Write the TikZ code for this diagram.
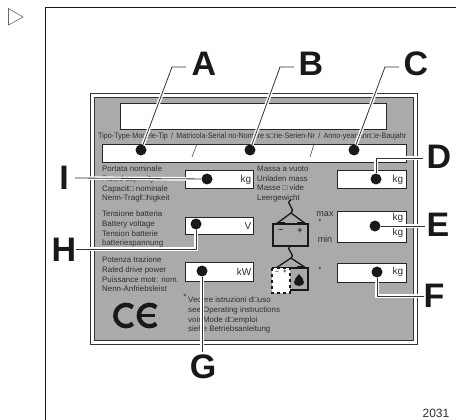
\documentclass[tikz,border=0pt]{standalone}
\usepackage{fontspec}
\usepackage{graphicx}
\setmainfont{Liberation Sans}
\usetikzlibrary{positioning,arrows.meta}
\usetikzlibrary{calc}

\definecolor{plategray}{HTML}{A9AAAC}
\definecolor{inkgray}{HTML}{2E2E2E}

\begin{document}
\begin{tikzpicture}[x=1pt, y=-1pt,
  field/.style={draw=black!85, fill=white, line width=0.9pt, minimum height=0pt, minimum width=0pt, inner sep=0pt, anchor=north west},
  platetext/.style={anchor=north west, align=left, inner sep=0pt, text=inkgray, font=\fontsize{7.9}{9.65}\selectfont},
  unit/.style={inner sep=0pt, text=inkgray, font=\fontsize{10}{10}\selectfont},
  pin/.style={circle, fill=black!90, minimum size=11pt, inner sep=0pt},
  callout/.style={inner sep=0pt, text=black!90, font=\fontsize{34}{34}\selectfont\bfseries},
  leader/.style={draw=black!80, line width=0.8pt, preaction={draw=white, line width=3.6pt}},
  strap/.style={draw=black!90, line width=1.3pt}]
\useasboundingbox (0,0) rectangle (456,420);
% frame and marker
\draw[black!90, line width=1.6pt] (45.5,420) -- (45.5,7.5) -- (456,7.5);
\draw[black!60, line width=0.6pt] (8.5,8.5) -- (23,17) -- (8.5,25) -- cycle;
% plate
\node[draw=black!80, line width=0.7pt, minimum width=327pt, minimum height=250pt, inner sep=0pt, anchor=north west] (plateouter) at (90,93.5) {};
\node[draw=black!80, fill=plategray, line width=0.8pt, minimum width=319pt, minimum height=243pt, inner sep=0pt, anchor=north west] (plate) at (93.5,97) {};
% fields
\node[field, minimum width=266pt, minimum height=26pt] (title) at (120,103) {};
\node[field, minimum width=304pt, minimum height=18pt] (serial) at (102,144) {};
\node[field, minimum width=68pt, minimum height=18pt] (rated) at (185,170) {};
\node[field, minimum width=69pt, minimum height=18pt] (unladen) at (337,170) {};
\node[field, minimum width=68pt, minimum height=17pt] (volt) at (185,217) {};
\node[field, minimum width=68pt, minimum height=19pt] (power) at (185,262) {};
\node[field, minimum width=69pt, minimum height=31pt] (ballastmax) at (337,211) {};
\node[field, minimum width=69pt, minimum height=19pt] (ballast) at (337,263) {};
\draw[black!70, line width=0.6pt] (197,144) -- (192,157);
\draw[black!70, line width=0.6pt] (314,144) -- (310,157);
% plate texts
\node[platetext, anchor=west] (serialtext) at (98,136.5) {\scalebox{0.91}[1]{Tipo-Type-Modèle-Tip\, /\, Matricola-Serial no-Nombre s□rie-Serien-Nr\, /\, Anno-year/ann□e-Baujahr}};
\node[platetext] (ratedtext) at (102,166) {Portata nominale\\Rated capacity\\Capacit□ nominale\\Nenn-Tragf□higkeit};
\node[platetext] (masstext) at (257,166) {Massa a vuoto\\Unladen mass\\Masse □ vide\\Leergewicht};
\node[platetext] (volttext) at (102,211) {Tensione batteria\\Battery voltage\\Tension batterie\\batteriespannung};
\node[platetext] (powertext) at (102,257) {Potenza trazione\\Rated drive power\\Puissance motr. nom.\\Nenn-Anfriebsleist};
\node[platetext] (notetext) at (188,297) {Vedere istruzioni d□uso\\see Operating instructions\\voir Mode d□emploi\\siehe Betriebsanleitung};
\node[platetext, anchor=center] (star) at (185,297) {*};
\node[unit, font=\fontsize{9}{9}\selectfont] (maxtext) at (325,214) {max};
\node[unit, font=\fontsize{9}{9}\selectfont] (mintext) at (325,239) {min};
\node[platetext, anchor=center] (maxstar) at (320,222) {*};
\node[platetext, anchor=center] (ballaststar) at (320,270) {*};
% units
\node[unit] (kga) at (246,179.5) {kg};
\node[unit] (kgb) at (398,179.5) {kg};
\node[unit] (voltunit) at (248,226) {V};
\node[unit] (kwunit) at (244,272) {kW};
\node[unit] (kgc) at (398,218) {kg};
\node[unit] (kgd) at (398,233) {kg};
\node[unit] (kge) at (398,272) {kg};
% battery icons
\draw[strap] (291,200) .. controls (284,203) and (296,208) .. (291,213);
\draw[strap] (276,224) -- (291,213) -- (306,224);
\draw[strap, line width=1.6pt] (273,224) rectangle (308,246);
\fill[black!90] (278,222) rectangle (285,224.5) (297,222) rectangle (304,224.5);
\node[unit, font=\fontsize{9}{9}\selectfont\bfseries] (minus) at (281,231) {--};
\node[unit, font=\fontsize{9}{9}\selectfont\bfseries] (plus) at (300,231) {+};
\draw[strap] (291,246) .. controls (284,249) and (296,254) .. (291,258);
\draw[strap] (276,268) -- (291,258) -- (306,268);
\draw[strap, line width=1.6pt] (273,268) rectangle (308,290);
\fill[black!90] (297,266) rectangle (304,268.5);
\draw[black!90, fill=white, dashed, line width=1.2pt] (272,268) rectangle (290,293);
\node[unit, font=\fontsize{6}{6}\selectfont\bfseries] (cellminus) at (277,273) {--};
\node[unit, font=\fontsize{6}{6}\selectfont\bfseries] (cellplus) at (285,272) {+};
\fill[black!90] (299,274) .. controls (296,278) and (294,279) .. (294,282.5) .. controls (294,287) and (304,287) .. (304,282.5) .. controls (304,279) and (302,278) .. (299,274);
% CE mark
\draw[black!90, line width=4.4pt] (132.9,307.3) arc[start angle=50, end angle=310, radius=10.7pt];
\draw[black!90, line width=4.4pt] (156.4,307.3) arc[start angle=50, end angle=310, radius=10.7pt];
\draw[black!90, line width=3.6pt] (140,315.5) -- (155,315.5);
% pins and callouts
\node[pin] (pinA) at (141,150) {};
\node[pin] (pinB) at (250,150) {};
\node[pin] (pinC) at (354,150) {};
\node[pin] (pinD) at (376,179) {};
\node[pin] (pinE) at (375,226) {};
\node[pin] (pinF) at (377,272) {};
\node[pin] (pinG) at (202,271) {};
\node[pin] (pinH) at (196,224) {};
\node[pin] (pinI) at (207,179) {};
\node[callout] (labelA) at (204,64) {A};
\node[callout] (labelB) at (311,64) {B};
\node[callout] (labelC) at (416,64) {C};
\node[callout] (labelD) at (439,157) {D};
\node[callout] (labelE) at (438,225) {E};
\node[callout] (labelF) at (434,296) {F};
\node[callout] (labelG) at (203,367) {G};
\node[callout] (labelH) at (64,250) {H};
\node[callout] (labelI) at (64,178) {I};
% leaders
\coordinate (bendA) at (172,67);
\coordinate (bendB) at (280,67);
\coordinate (bendC) at (385,67);
\coordinate (tipA) at (186,67);
\coordinate (tipB) at (294,67);
\coordinate (tipC) at (399,67);
\coordinate (bendD) at (376,158);
\coordinate (tipD) at (423,158);
\coordinate (tipE) at (425,226);
\coordinate (bendF) at (377,296);
\coordinate (tipF) at (424,296);
\coordinate (tipG) at (202,352);
\coordinate (bendH) at (196,249);
\coordinate (tipH) at (76,249);
\coordinate (tipI) at (75,178);
\foreach \u/\v/\w in {pinA/bendA/tipA, pinB/bendB/tipB, pinC/bendC/tipC, pinD/bendD/tipD,
  pinF/bendF/tipF, pinH/bendH/tipH} \draw[leader] (\u) -- (\v) -- (\w);
\foreach \u/\w in {pinE/tipE, pinG/tipG, pinI/tipI} \draw[leader] (\u) -- (\w);
\node[inner sep=0pt, text=inkgray, font=\fontsize{12}{12}\selectfont] (figno) at (436,413) {2031};
\end{tikzpicture}
\end{document}
